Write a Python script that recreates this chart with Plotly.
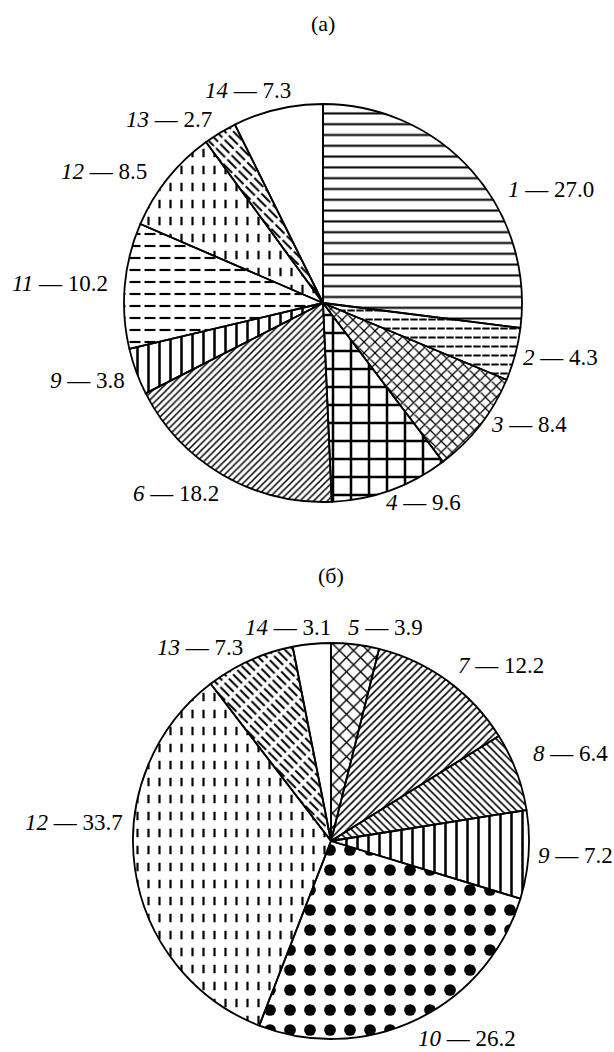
import plotly.graph_objects as go

# ---- data -------------------------------------------------------------
categories_a = ["1", "2", "3", "4", "6", "9", "11", "12", "13", "14"]
shares_a = [27.0, 4.3, 8.4, 9.6, 18.2, 3.8, 10.2, 8.5, 2.7, 7.3]

categories_b = ["5", "7", "8", "9", "10", "12", "13", "14"]
shares_b = [3.9, 12.2, 6.4, 7.2, 26.2, 33.7, 7.3, 3.1]

panel_titles = ["(а)", "(б)"]

# ---- hatch styles per category: (shape, size, solidity) ---------------
BASE = {
    "1": ("-", 10.8, 0.19),
    "2": ("-", 9.0, 0.22),
    "3": ("x", 7.8, 0.30),
    "4": ("+", 18.0, 0.26),
    "5": ("x", 10.0, 0.26),
    "6": ("/", 4.8, 0.32),
    "7": ("/", 5.2, 0.30),
    "8": ("\\", 5.2, 0.30),
    "9": ("|", 11.0, 0.23),
    "10": (".", 20.0, 0.27),
    "11": ("-", 12.0, 0.18),
    "12": ("|", 11.0, 0.20),
    "13": ("\\", 6.0, 0.34),
    "14": ("", 8.0, 0.3),
}
# white stripes laid over some hatches to break lines into dashes
OVERLAY = {
    "2": ("|", 9.0, 0.18),
    "11": ("|", 15.0, 0.27),
    "12": ("-", 17.0, 0.5),
    "13": ("/", 16.0, 0.2),
}

W, H = 614, 1052
FONT = "'Liberation Serif', 'Times New Roman', Times, serif"
CLEAR = "rgba(0,0,0,0)"


def domain(cx, cy, r):
    return dict(x=[(cx - r) / W, (cx + r) / W],
                y=[1 - (cy + r) / H, 1 - (cy - r) / H])


def pie_traces(cats, vals, dom):
    common = dict(labels=cats, values=vals, sort=False, direction="clockwise",
                  rotation=0, domain=dom, textinfo="none", hoverinfo="label+value",
                  showlegend=False)
    base = go.Pie(
        **common,
        marker=dict(
            colors=["white"] * len(cats),
            line=dict(width=0),
            pattern=dict(
                shape=[BASE[c][0] for c in cats],
                size=[BASE[c][1] for c in cats],
                solidity=[BASE[c][2] for c in cats],
                fgcolor="black", bgcolor="white", fgopacity=1,
                fillmode="replace",
            ),
        ),
    )
    over = go.Pie(
        **common,
        marker=dict(
            colors=[CLEAR] * len(cats),
            line=dict(width=0),
            pattern=dict(
                shape=[OVERLAY.get(c, ("", 8, 0.3))[0] for c in cats],
                size=[OVERLAY.get(c, ("", 8, 0.3))[1] for c in cats],
                solidity=[OVERLAY.get(c, ("", 8, 0.3))[2] for c in cats],
                fgcolor="white", bgcolor=CLEAR, fgopacity=1,
                fillmode="replace",
            ),
        ),
    )
    outline = go.Pie(
        **common,
        marker=dict(colors=[CLEAR] * len(cats),
                    line=dict(color="black", width=1.8)),
    )
    return [base, over, outline]


fig = go.Figure()
for t in pie_traces(categories_a, shares_a, domain(323, 303, 199)):
    fig.add_trace(t)
for t in pie_traces(categories_b, shares_b, domain(331, 841, 198)):
    fig.add_trace(t)

# label placement (pixels): anchor side, x, y
label_pos_a = {
    "1": ("left", 506, 189), "2": ("left", 521, 358), "3": ("left", 489, 424),
    "4": ("left", 384, 503), "6": ("right", 221, 493), "9": ("right", 127, 380),
    "11": ("right", 110, 283), "12": ("right", 149, 172), "13": ("right", 214, 120),
    "14": ("left", 203, 90),
}
label_pos_b = {
    "5": ("left", 346, 627), "7": ("left", 456, 665), "8": ("left", 531, 753),
    "9": ("left", 536, 855), "10": ("left", 416, 1038), "12": ("right", 125, 822),
    "13": ("right", 245, 647), "14": ("left", 243, 627),
}

annotations = []
for cats, vals, pos in ((categories_a, shares_a, label_pos_a),
                        (categories_b, shares_b, label_pos_b)):
    for c, v in zip(cats, vals):
        side, px, py = pos[c]
        annotations.append(dict(
            text=f"<i>{c}</i> — {v:.1f}", x=px / W, y=1 - py / H,
            xref="paper", yref="paper", xanchor=side, yanchor="middle",
            showarrow=False, font=dict(family=FONT, size=23, color="black"),
        ))

for title, (px, py) in zip(panel_titles, [(323, 23), (331, 575)]):
    annotations.append(dict(
        text=title, x=px / W, y=1 - py / H, xref="paper", yref="paper",
        xanchor="center", yanchor="middle", showarrow=False,
        font=dict(family=FONT, size=22, color="black"),
    ))

fig.update_layout(
    width=W, height=H, margin=dict(l=0, r=0, t=0, b=0),
    paper_bgcolor="white", plot_bgcolor="white",
    font=dict(family=FONT),
    annotations=annotations,
)

fig.write_html("out.html")
